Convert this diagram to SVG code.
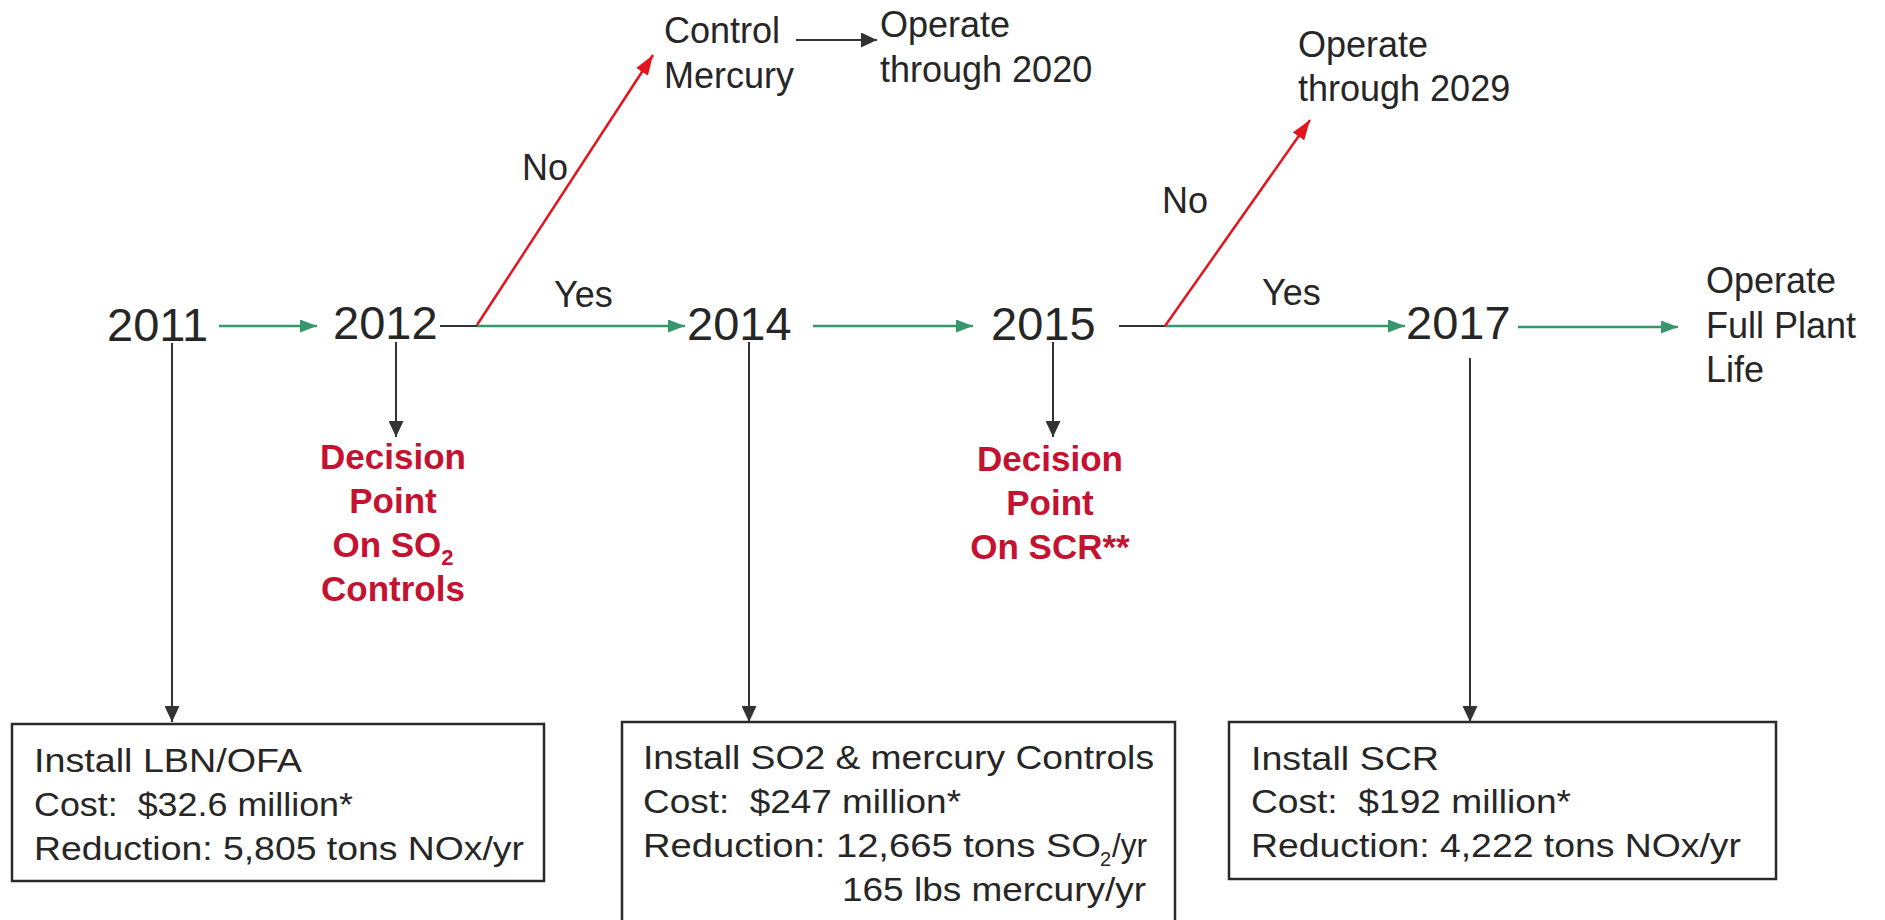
<svg xmlns="http://www.w3.org/2000/svg" width="1885" height="920" viewBox="0 0 1885 920">
  <defs>
    <style>
      .t { font-family: "Liberation Sans", Arial, Helvetica, sans-serif; fill: #262626; }
      .year { font-size: 47px; }
      .lbl { font-size: 36px; }
      .box-t { font-size: 34px; }
      .dec { font-family: "Liberation Sans", Arial, Helvetica, sans-serif; font-weight: bold; font-size: 35px; fill: #c41230; text-anchor: middle; }
      .ln-k { stroke: #333; stroke-width: 2; fill: none; }
      .ln-g { stroke: #37966e; stroke-width: 2.5; fill: none; }
      .ln-r { stroke: #e3141e; stroke-width: 2.5; fill: none; }
      .box { fill: #fff; stroke: #2a2a2a; stroke-width: 2.5; }
    </style>
    <marker id="ah-k" markerUnits="userSpaceOnUse" markerWidth="16" markerHeight="15" refX="16" refY="7.5" orient="auto">
      <path d="M0,0 L16,7.5 L0,15 z" fill="#333"/>
    </marker>
    <marker id="ah-g" markerUnits="userSpaceOnUse" markerWidth="17" markerHeight="13" refX="17" refY="6.5" orient="auto">
      <path d="M0,0 L17,6.5 L0,13 z" fill="#37966e"/>
    </marker>
    <marker id="ah-r" markerUnits="userSpaceOnUse" markerWidth="20" markerHeight="14" refX="20" refY="7" orient="auto">
      <path d="M0,0 L20,7 L0,14 z" fill="#e3141e"/>
    </marker>
  </defs>

  <rect x="0" y="0" width="1885" height="920" fill="#fff"/>

  <!-- connectors -->
  <g id="connectors">
    <!-- timeline -->
    <line class="ln-g" x1="219" y1="326" x2="317" y2="326" marker-end="url(#ah-g)"/>
    <line class="ln-k" x1="440" y1="326" x2="477" y2="326"/>
    <line class="ln-g" x1="477" y1="326" x2="685" y2="326" marker-end="url(#ah-g)"/>
    <line class="ln-g" x1="813" y1="326" x2="973" y2="326" marker-end="url(#ah-g)"/>
    <line class="ln-k" x1="1119" y1="326" x2="1165" y2="326"/>
    <line class="ln-g" x1="1165" y1="326" x2="1405" y2="326" marker-end="url(#ah-g)"/>
    <line class="ln-g" x1="1518" y1="327" x2="1678" y2="327" marker-end="url(#ah-g)"/>
    <!-- "No" branches -->
    <line class="ln-r" x1="477" y1="325" x2="653" y2="55" marker-end="url(#ah-r)"/>
    <line class="ln-r" x1="1165" y1="326" x2="1310" y2="120" marker-end="url(#ah-r)"/>
    <line class="ln-k" x1="796" y1="40" x2="877" y2="40" marker-end="url(#ah-k)"/>
    <!-- drops to decisions and projects -->
    <line class="ln-k" x1="172" y1="343" x2="172" y2="722" marker-end="url(#ah-k)"/>
    <line class="ln-k" x1="396" y1="342" x2="396" y2="437" marker-end="url(#ah-k)"/>
    <line class="ln-k" x1="749" y1="342" x2="749" y2="722" marker-end="url(#ah-k)"/>
    <line class="ln-k" x1="1053" y1="342" x2="1053" y2="437" marker-end="url(#ah-k)"/>
    <line class="ln-k" x1="1470" y1="358" x2="1470" y2="722" marker-end="url(#ah-k)"/>
  </g>

  <!-- years -->
  <g id="y2011"><text class="t year" x="107" y="341">2011</text></g>
  <g id="y2012"><text class="t year" x="333" y="339">2012</text></g>
  <g id="y2014"><text class="t year" x="687" y="340">2014</text></g>
  <g id="y2015"><text class="t year" x="991" y="340">2015</text></g>
  <g id="y2017"><text class="t year" x="1406" y="339">2017</text></g>

  <!-- branch labels -->
  <g id="no1"><text class="t lbl" x="522" y="180">No</text></g>
  <g id="yes1"><text class="t lbl" x="554" y="307">Yes</text></g>
  <g id="no2"><text class="t lbl" x="1162" y="213">No</text></g>
  <g id="yes2"><text class="t lbl" x="1262" y="305">Yes</text></g>

  <!-- outcomes -->
  <g id="control-mercury">
    <text class="t lbl" x="664" y="43">Control</text>
    <text class="t lbl" x="664" y="88">Mercury</text>
  </g>
  <g id="operate-2020">
    <text class="t lbl" x="880" y="37">Operate</text>
    <text class="t lbl" x="880" y="82">through 2020</text>
  </g>
  <g id="operate-2029">
    <text class="t lbl" x="1298" y="57">Operate</text>
    <text class="t lbl" x="1298" y="101">through 2029</text>
  </g>
  <g id="operate-full">
    <text class="t lbl" x="1706" y="293">Operate</text>
    <text class="t lbl" x="1706" y="338">Full Plant</text>
    <text class="t lbl" x="1706" y="382">Life</text>
  </g>

  <!-- decision points -->
  <g id="decision-so2">
    <text class="dec" x="393" y="469">Decision</text>
    <text class="dec" x="393" y="513">Point</text>
    <text class="dec" x="393" y="557">On SO<tspan font-size="22" dy="8">2</tspan></text>
    <text class="dec" x="393" y="601">Controls</text>
  </g>
  <g id="decision-scr">
    <text class="dec" x="1050" y="471">Decision</text>
    <text class="dec" x="1050" y="515">Point</text>
    <text class="dec" x="1050" y="559">On SCR**</text>
  </g>

  <!-- project boxes -->
  <g id="box-lbn">
    <rect class="box" x="12" y="724" width="532" height="157"/>
    <text class="t box-t" x="34" y="772" textLength="268" lengthAdjust="spacingAndGlyphs">Install LBN/OFA</text>
    <text class="t box-t" x="34" y="816" textLength="319" lengthAdjust="spacingAndGlyphs">Cost: &#160;$32.6 million*</text>
    <text class="t box-t" x="34" y="860" textLength="490" lengthAdjust="spacingAndGlyphs">Reduction: 5,805 tons NOx/yr</text>
  </g>
  <g id="box-so2">
    <rect class="box" x="622" y="722" width="553" height="230"/>
    <text class="t box-t" x="643" y="769" textLength="511" lengthAdjust="spacingAndGlyphs">Install SO2 &amp; mercury Controls</text>
    <text class="t box-t" x="643" y="813" textLength="318" lengthAdjust="spacingAndGlyphs">Cost: &#160;$247 million*</text>
    <text class="t box-t" x="643" y="857" textLength="458" lengthAdjust="spacingAndGlyphs">Reduction: 12,665 tons SO</text>
    <text class="t" font-size="20" x="1100" y="866">2</text>
    <text class="t box-t" x="1112" y="857" textLength="35" lengthAdjust="spacingAndGlyphs">/yr</text>
    <text class="t box-t" x="842" y="901" textLength="304" lengthAdjust="spacingAndGlyphs">165 lbs mercury/yr</text>
  </g>
  <g id="box-scr">
    <rect class="box" x="1229" y="722" width="547" height="157"/>
    <text class="t box-t" x="1251" y="770" textLength="188" lengthAdjust="spacingAndGlyphs">Install SCR</text>
    <text class="t box-t" x="1251" y="813" textLength="320" lengthAdjust="spacingAndGlyphs">Cost: &#160;$192 million*</text>
    <text class="t box-t" x="1251" y="857" textLength="490" lengthAdjust="spacingAndGlyphs">Reduction: 4,222 tons NOx/yr</text>
  </g>
</svg>
